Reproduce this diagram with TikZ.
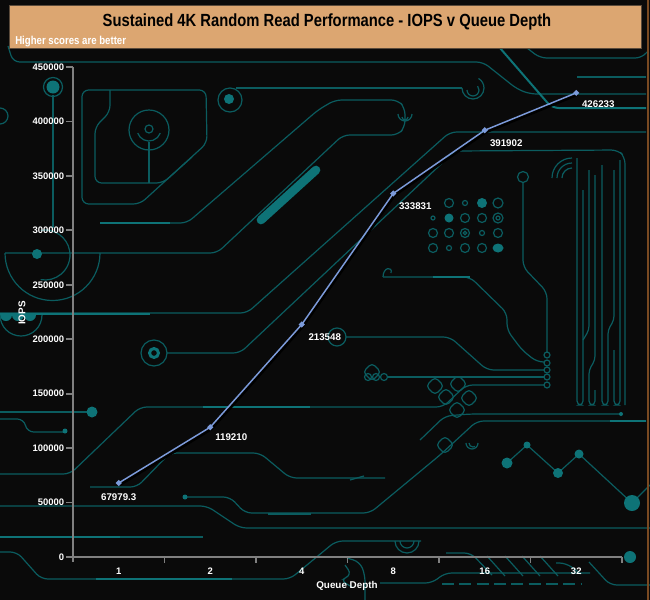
\documentclass[tikz,border=0pt]{standalone}
\usepackage{fontspec}
\setmainfont{Liberation Sans}
\newfontfamily\narrowfont{Liberation Sans}[FakeStretch=0.84]
\usetikzlibrary{shapes.geometric,calc}
\definecolor{bg}{HTML}{0A0A0A}
\definecolor{trace}{HTML}{0B5C5F}
\definecolor{tracehi}{HTML}{0E7377}
\definecolor{titlefill}{HTML}{DCA671}
\definecolor{titleedge}{HTML}{5A4A3A}
\definecolor{axisgray}{HTML}{808080}
\definecolor{dataline}{HTML}{7C9BDB}
\definecolor{rimcol}{HTML}{7A4A22}
\begin{document}
\begin{tikzpicture}[x=0.75pt,y=-0.75pt,
  tr/.style={draw=trace, line width=0.9pt, rounded corners=5pt},
  trh/.style={draw=tracehi, line width=1.5pt, rounded corners=5pt},
  ring/.style={draw=trace, line width=0.9pt},
  pad/.style={fill=tracehi},
  axisline/.style={draw=axisgray, line width=1.6pt},
  tickline/.style={draw=axisgray, line width=1.4pt},
  ticklbl/.style={text=white, font=\bfseries\fontsize{7.1pt}{8pt}\selectfont, inner sep=0pt},
  datalbl/.style={text=white, font=\bfseries\fontsize{7.3pt}{8pt}\selectfont, inner sep=0pt},
  axtitle/.style={text=white, font=\bfseries\fontsize{7.4pt}{8pt}\selectfont, inner sep=0pt},
  series/.style={draw=dataline, line width=1.1pt},
  seriesshadow/.style={draw=black, line width=1.8pt},
  marker/.style={diamond, fill=dataline, inner sep=0pt, minimum size=4.8pt}
]
\useasboundingbox (0,0) rectangle (650,600);
\fill[bg] (0,0) rectangle (650,600);

% ---------------- circuit background ----------------
% top traces
\draw[tr] (8,46) -- (13,62) -- (483,62) -- (517,89) -- (530,94) -- (646,94);
\draw[trh] (500,48) -- (552,108) -- (646,108);
\draw[tr] (527,48) -- (540,58) -- (642,58) -- (647,52);
\draw[tr] (577,77) -- (646,77);
\draw[tr] (646,132) -- (450,132) -- (247,313) -- (0,313);
\draw[trh,rounded corners=0pt] (0,314) -- (150,314);
% long diagonal loop with ground symbol
\draw[tr] (100,223) -- (187,223) -- (318,110) -- (335,100) -- (398,100) -- (405,108) -- (405,127) -- (398,135) -- (343,135) -- (217,253) -- (5,253);
\draw[trh,rounded corners=0pt] (100,223) -- (170,223);
\draw[ring] (398,114) arc[start angle=180,end angle=0,radius=7];
\draw[ring] (402,117) arc[start angle=180,end angle=0,radius=3];
% left big circle
\draw[tr] (5,253) arc[start angle=180,end angle=0,radius=47.5];
\draw[tr] (53,95) -- (53,228);
\draw[ring] (45,255) ++(-100:25) arc[start angle=-100,end angle=100,radius=25];
\fill[tracehi] (37,254) circle[radius=5];
\draw[ring] (53,87) circle[radius=9.5];
\fill[tracehi] (53,87) circle[radius=6.5];
\draw[ring] (0,108) arc[start angle=-90,end angle=90,radius=8];
% lobes
\fill[tracehi] (0,315) arc[start angle=180,end angle=0,radius=6];
\fill[tracehi] (12,315) arc[start angle=180,end angle=0,radius=6];
\fill[tracehi] (24,315) arc[start angle=180,end angle=0,radius=6];
\draw[ring] (0,315) arc[start angle=180,end angle=0,radius=21];
% ring with trace up to the grid frame
\draw[ring] (154,353) circle[radius=13];
\draw[tracehi,line width=2.2pt] (154,353) circle[radius=4.5];
\draw[tr] (167,353) -- (240,353) -- (455,151) -- (618,150) -- (625,157) -- (625,405);
% top ring + line
\draw[tr] (236,88) -- (462,88);
\draw[ring] (230,100) circle[radius=12];
\fill[tracehi] (229,99) circle[radius=5];
\draw[ring] (462,88) arc[start angle=180,end angle=-60,radius=11];
\draw[ring] (467,90) arc[start angle=180,end angle=-40,radius=6];
% top-left box shapes
\draw[tr] (82,90) -- (206,90) -- (207,143) -- (140,204) -- (82,204) -- cycle;
\draw[tr] (110,90) -- (110,112) -- (95,127) -- (95,183) -- (163,183) -- (192,157);
\draw[ring] (149,130) circle[radius=20];
\draw[ring] (149,129) ++(160:12) arc[start angle=160,end angle=20,radius=12];
\draw[ring] (149,129) circle[radius=4];
\draw[ring] (149,142) -- (149,183);
% thick bar
\draw[tracehi, line width=6.5pt, line cap=round] (261,220) -- (316,170);
% left side traces
\draw[tr] (0,412) -- (88,412);
\fill[tracehi] (92,412) circle[radius=5.5];
\draw[tr] (0,419) -- (24,419) -- (27,432) -- (65,432);
\fill[tracehi] (65,431) circle[radius=2.5];
\draw[tr] (0,474) -- (70,474) -- (140,407) -- (443,407) -- (466,385) -- (544,385);
\draw[trh,rounded corners=0pt] (203,407) -- (310,407);
\draw[ring] (337,337) circle[radius=9];
\draw[tr] (346,337) -- (450,337) -- (487,370) -- (544,370);
\draw[tr] (388,377) -- (544,377);
\foreach \cx in {368,376,384} \draw[ring] (\cx,377) circle[radius=3.5];
\foreach \cy in {355,363,370,377,385} \draw[ring] (547,\cy) circle[radius=3];
\draw[tr] (523,183) -- (523,267) -- (547,292) -- (547,352);
\draw[ring] (523,177) circle[radius=5.5];
\draw[tr] (383,277) -- (470,277) -- (507,313) -- (507,330) -- (522,350) -- (537,362) -- (544,362);
\draw[ring] (383,277) .. controls (383,267) and (393,266) .. (391,273);
\draw[trh,rounded corners=0pt] (433,277) -- (470,277);
% right vertical bus
\draw[tr,rounded corners=3pt] (577,158) -- (577,405) -- (583,405) -- (583,190);
\draw[tr,rounded corners=3pt] (589,170) -- (589,330) -- (583,340);
\draw[tr,rounded corners=3pt] (595,175) -- (595,360) -- (589,370) -- (589,405) -- (595,405) -- (595,390) ;
\draw[tr,rounded corners=3pt] (602,165) -- (602,405) -- (608,405) -- (608,330) -- (614,320) -- (614,170);
\draw[tr,rounded corners=3pt] (614,350) -- (614,405) -- (620,405) -- (620,160);
% arcs near grid
\foreach \r in {10,15,20} \draw[ring] (572,178) ++(180:\r) arc[start angle=180,end angle=270,radius=\r];
% dot grid
\foreach \cx/\cy/\r in {449/203/4.5,465/203/2.5,498/203/5,
   433/218/2,465/218/4.5,482/218/4.5,498/218/5,
   433/233/4.5,449/233/4.5,465/233/4.5,498/233/4.5,
   433/248/4.5,449/248/2.5,465/248/4.5,482/248/4.5}
  \draw[ring] (\cx,\cy) circle[radius=\r];
\draw[ring] (465,233) circle[radius=1.8];
\draw[ring] (498,218) circle[radius=2];
\fill[tracehi] (482,203) circle[radius=5];
\fill[tracehi] (449,218) circle[radius=4.5];
\fill[tracehi] (498,248) ellipse[x radius=5.5,y radius=4.5];
\draw[ring] (482,233) circle[radius=2.5];
% lozenge cluster
\foreach \cx/\cy in {372,458/384,446/397,435/386,469/398,457/410,445}
  \draw[ring,rounded corners=3pt] (\cx-9,\cy) -- (\cx,\cy-9) -- (\cx+9,\cy) -- (\cx,\cy+9) -- cycle;
\draw[tr] (350,480) -- (364,476);
\draw[ring] (466,443) arc[start angle=180,end angle=0,radius=6];
\draw[ring] (469,443) arc[start angle=180,end angle=60,radius=4];
% dot chain
\draw[ring] (507,463) -- (527,445) -- (558,473) -- (579,454) -- (632,503) -- (650,485);
\fill[tracehi] (507,463) circle[radius=5.5];
\fill[tracehi] (527,445) circle[radius=3.5];
\fill[tracehi] (558,473) circle[radius=5];
\fill[tracehi] (579,454) circle[radius=4.5];
\fill[tracehi] (632,503) circle[radius=8];
% middle/lower traces
\draw[tr] (90,487) -- (137,487) -- (170,453) -- (260,453) -- (290,478) -- (385,478);
\draw[tr] (187,497) -- (230,497) -- (245,513) -- (370,513) -- (440,455) -- (477,421) -- (497,421) -- (646,421);
\fill[tracehi] (185,497) circle[radius=2.5];
\draw[trh,rounded corners=0pt] (610,421) -- (646,421);
\draw[tr] (420,440) -- (445,416) -- (470,414) -- (620,414);
\fill[tracehi] (621,414) circle[radius=2];
\draw[tr] (0,506) -- (207,506) -- (240,528) -- (650,528);
\draw[tr] (0,537) -- (203,537);
\draw[trh,rounded corners=0pt] (0,537) -- (120,537);
\draw[tr] (0,552) -- (17,552) -- (41,579) -- (290,579) -- (336,541) -- (421,541);
\draw[trh,rounded corners=0pt] (96,579) -- (232,579);
\draw[ring] (395,541) arc[start angle=180,end angle=0,radius=12];
\draw[ring] (400,541) arc[start angle=180,end angle=0,radius=7];
\draw[ring] (268,514) -- (311,514);
\draw[tr] (347,558) -- (360,562) -- (365,575) -- (365,600);
\draw[tr] (345,565) -- (352,575) -- (340,580) -- (352,587);
\draw[tr] (380,583) -- (432,583) -- (445,573) -- (590,573);
\draw[tr, dashed, dash pattern=on 9pt off 4pt] (442,584) -- (581,584);
\draw[tr] (446,553) -- (471,553) -- (492,575);
\foreach \hx in {487,505,522,540} \draw[ring] (\hx,556) -- (\hx+18,576);
\draw[tr] (556,563) -- (566,563) -- (581,574);
\draw[tr] (589,562) -- (610,585) -- (650,585);
\fill[tracehi] (630,557) circle[radius=6];

% ---------------- frame and title ----------------
\draw[rimcol, line width=1.5pt] (647.5,0) -- (647.5,600);
\node[draw=titleedge, line width=0.6pt, fill=titlefill, minimum width=632*0.75pt, minimum height=43*0.75pt, anchor=north west, inner sep=0pt] (titlebox) at (9,5) {};
\node[text=black, font=\narrowfont\bfseries\fontsize{13.2pt}{15pt}\selectfont, inner sep=0pt] (title) at (327,21.5) {Sustained 4K Random Read Performance - IOPS v Queue Depth};
\node[text=white, font=\narrowfont\bfseries\fontsize{8.6pt}{10pt}\selectfont, inner sep=0pt, anchor=west] (subtitle) at (15,42) {Higher scores are better};

% ---------------- axes ----------------
\coordinate (yaxtop) at (73,67);
\coordinate (yaxbot) at (73,562);
\coordinate (xaxleft) at (66,557);
\coordinate (xaxright) at (622,557);
\draw[axisline] (yaxtop) -- (yaxbot);
\draw[axisline] (xaxleft) -- (xaxright);
\foreach \k/\lab in {0/0,1/50000,2/100000,3/150000,4/200000,5/250000,6/300000,7/350000,8/400000,9/450000}{
  \pgfmathsetmacro\yy{557-54.4444*\k}
  \coordinate (ytk\k) at (73,\yy);
  \draw[tickline] (ytk\k) -- ++(-7,0);
  \node[ticklbl, anchor=east] (yt\k) at (64.5,\yy) {\lab};
}
\foreach \k in {1,...,6}{
  \pgfmathsetmacro\xx{73+91.5*\k}
  \coordinate (xtk\k) at (\xx,557);
  \draw[tickline] (xtk\k) -- ++(0,6);
}
\foreach \k/\lab in {1/1,2/2,3/4,4/8,5/16,6/32}{
  \pgfmathsetmacro\xx{73+91.5*(\k-0.5)}
  \node[ticklbl] (xt\k) at (\xx,571) {\lab};
}
\node[axtitle] (xtitle) at (347,586) {Queue Depth};
\node[axtitle, rotate=90] (ytitle) at (22,313) {IOPS};

% ---------------- data ----------------
\coordinate (p1) at (118.75,482.98);
\coordinate (p2) at (210.25,427.19);
\coordinate (p3) at (301.75,324.47);
\coordinate (p4) at (393.25,193.49);
\coordinate (p5) at (484.75,130.26);
\coordinate (p6) at (576.25,92.88);
\begin{scope}[transform canvas={shift={(1.0pt,-1.4pt)}}]
\draw[seriesshadow] (p1) -- (p2) -- (p3) -- (p4) -- (p5) -- (p6);
\end{scope}
\draw[series] (p1) -- (p2) -- (p3) -- (p4) -- (p5) -- (p6);
\foreach \i in {1,...,6} \node[marker] (m\i) at (p\i) {};
\node[datalbl] (l1) at ($(p1)+(0,14)$) {67979.3};
\node[datalbl] (l2) at ($(p2)+(21,9.5)$) {119210};
\node[datalbl] (l3) at ($(p3)+(23,12.5)$) {213548};
\node[datalbl] (l4) at ($(p4)+(22,12.5)$) {333831};
\node[datalbl] (l5) at ($(p5)+(21.5,12.5)$) {391902};
\node[datalbl] (l6) at ($(p6)+(22,11.5)$) {426233};
\end{tikzpicture}
\end{document}
